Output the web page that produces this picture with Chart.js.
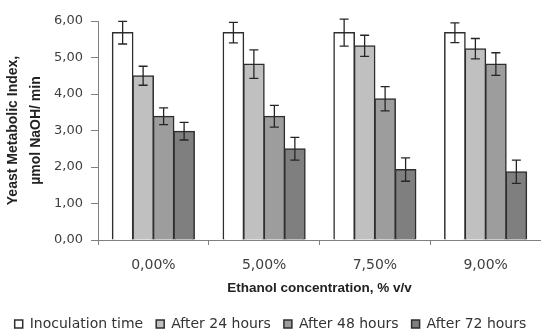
<!DOCTYPE html>
<html><head><meta charset="utf-8">
<script src="https://cdn.jsdelivr.net/npm/chart.js@4/dist/chart.umd.min.js"></script>
<style>html,body{margin:0;padding:0;background:#fff;overflow:hidden;} #wrap{width:541px;height:331px;}</style>
</head><body><div id="wrap"><canvas id="c" width="541" height="331"></canvas></div>
<script>
const categories = ['0,00%', '5,00%', '7,50%', '9,00%'];
const seriesNames = ['Inoculation time', 'After 24 hours', 'After 48 hours', 'After 72 hours'];
const inoculation = [5.68, 5.68, 5.68, 5.68];
const after24 = [4.50, 4.82, 5.32, 5.24];
const after48 = [3.39, 3.39, 3.87, 4.82];
const after72 = [2.98, 2.50, 1.93, 1.87];
const errInoculation = [0.31, 0.28, 0.37, 0.27];
const err24 = [0.26, 0.39, 0.29, 0.28];
const err48 = [0.23, 0.30, 0.33, 0.31];
const err72 = [0.24, 0.31, 0.32, 0.32];
const yMin = 0, yMax = 6, yStep = 1;
const yTitle = ['Yeast Metabolic Index,', 'µmol NaOH/ min'];
const xTitle = 'Ethanol concentration, % v/v';

const fills = ['#ffffff', '#c0c0c0', '#9d9d9d', '#7f7f7f'];
const seriesValues = [inoculation, after24, after48, after72];
const seriesErrors = [errInoculation, err24, err48, err72];

const errorBars = {
  id: 'errorBars',
  afterDatasetsDraw(chart) {
    const ctx = chart.ctx, ys = chart.scales.y;
    chart.data.datasets.forEach((ds, i) => {
      const meta = chart.getDatasetMeta(i);
      meta.data.forEach((bar, j) => {
        const v = ds.data[j], e = ds.errors[j];
        const yt = ys.getPixelForValue(v + e), yb = ys.getPixelForValue(v - e);
        const x = bar.x, cap = 4.5;
        ctx.save();
        ctx.strokeStyle = '#262626';
        ctx.lineWidth = 1.3;
        ctx.beginPath();
        ctx.moveTo(x, yt); ctx.lineTo(x, yb);
        ctx.moveTo(x - cap, yt); ctx.lineTo(x + cap, yt);
        ctx.moveTo(x - cap, yb); ctx.lineTo(x + cap, yb);
        ctx.stroke();
        ctx.restore();
      });
    });
  }
};

const legendHeight = {
  id: 'legendHeight',
  afterInit(chart) {
    const lg = chart.legend;
    if (!lg) return;
    const orig = lg.fit;
    lg.fit = function () { orig.call(this); this.height = 27; };
  }
};

Chart.defaults.font.family = 'DejaVu Sans';

new Chart(document.getElementById('c'), {
  type: 'bar',
  data: {
    labels: categories,
    datasets: seriesNames.map((name, i) => ({
      label: name,
      data: seriesValues[i],
      errors: seriesErrors[i],
      backgroundColor: fills[i],
      borderColor: '#2e2e2e',
      borderWidth: 1.5,
      inflateAmount: 0.6,
      barPercentage: 1.0,
      categoryPercentage: 0.74
    }))
  },
  options: {
    responsive: false,
    animation: false,
    devicePixelRatio: 1,
    layout: { padding: { top: 21, left: 0, right: 0, bottom: 0 } },
    plugins: {
      legend: {
        position: 'bottom',
        labels: {
          boxWidth: 8, boxHeight: 8, padding: 13,
          color: '#333333',
          font: { family: 'DejaVu Sans', size: 14 }
        }
      },
      tooltip: { enabled: false }
    },
    scales: {
      x: {
        grid: { display: true, drawOnChartArea: false, drawTicks: true, tickLength: 5, tickColor: '#808080', offset: true },
        border: { display: true, color: '#808080', width: 1 },
        ticks: { color: '#404040', padding: 12, font: { family: 'DejaVu Sans', size: 14 } },
        title: { display: true, text: xTitle, color: '#222222', padding: { top: 0, bottom: 7.5 },
                 font: { family: 'Liberation Sans', size: 13.5, weight: 'bold' } },
        afterFit(s) { s.height = 64; }
      },
      y: {
        min: yMin, max: yMax,
        grid: { display: true, drawOnChartArea: false, drawTicks: true, tickLength: 7, tickColor: '#808080' },
        border: { display: true, color: '#808080', width: 1 },
        ticks: { stepSize: yStep, color: '#404040', padding: 8,
                 font: { family: 'DejaVu Sans', size: 13 },
                 callback: v => v.toFixed(2).replace('.', ',') },
        title: { display: true, text: yTitle, color: '#222222', padding: { top: 1.5, bottom: 0 },
                 font: { family: 'Liberation Sans', size: 14, weight: 'bold', lineHeight: 1.65 } },
        afterFit(s) { s.width = 98; }
      }
    }
  },
  plugins: [errorBars, legendHeight]
});
</script></body></html>
